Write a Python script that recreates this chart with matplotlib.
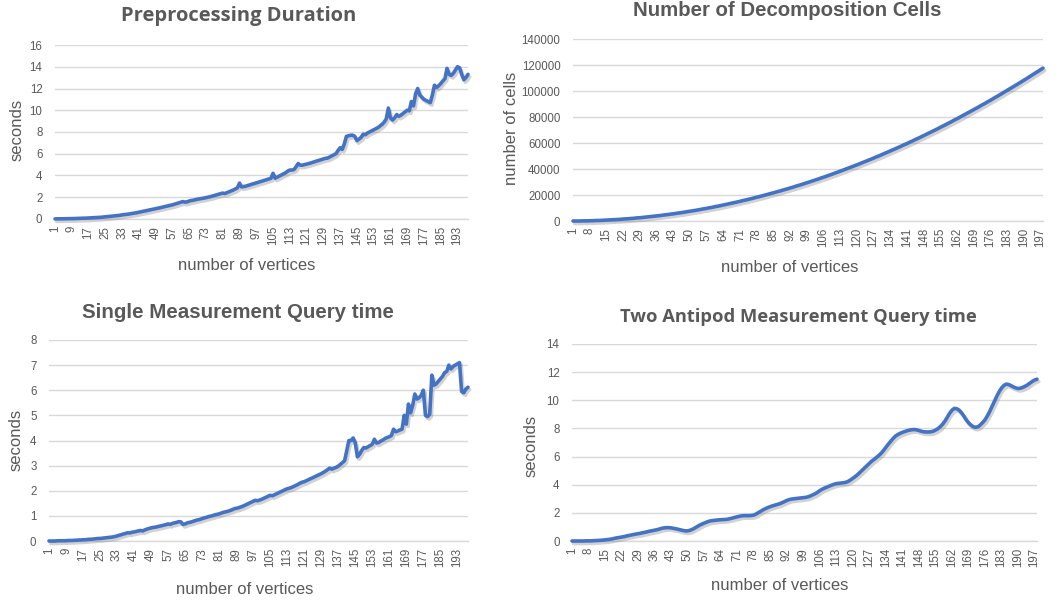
import matplotlib
matplotlib.use("Agg")
import matplotlib.pyplot as plt
import matplotlib.patheffects as pe
import numpy as np

# ---------------- data ----------------
vertices = list(range(1, 199))

preprocessing_sec = [
    0.01, 0.01, 0.02, 0.02, 0.02, 0.03, 0.03, 0.03, 0.04, 0.04,
    0.05, 0.05, 0.06, 0.07, 0.07, 0.08, 0.09, 0.10, 0.11, 0.12,
    0.13, 0.15, 0.16, 0.18, 0.20, 0.21, 0.23, 0.25, 0.27, 0.29,
    0.31, 0.34, 0.38, 0.40, 0.42, 0.45, 0.48, 0.52, 0.55, 0.58,
    0.62, 0.66, 0.69, 0.73, 0.77, 0.81, 0.86, 0.90, 0.95, 0.99,
    1.03, 1.08, 1.12, 1.17, 1.21, 1.26, 1.30, 1.36, 1.42, 1.48,
    1.54, 1.60, 1.55, 1.58, 1.65, 1.70, 1.73, 1.78, 1.82, 1.85,
    1.88, 1.92, 1.96, 2.00, 2.05, 2.10, 2.16, 2.22, 2.28, 2.33,
    2.38, 2.34, 2.42, 2.50, 2.58, 2.66, 2.76, 2.86, 3.30, 2.95,
    2.98, 3.02, 3.08, 3.14, 3.20, 3.26, 3.32, 3.38, 3.44, 3.50,
    3.56, 3.62, 3.68, 3.74, 4.20, 3.75, 3.85, 3.95, 4.05, 4.15,
    4.25, 4.40, 4.50, 4.50, 4.55, 4.80, 5.10, 4.95, 4.95, 5.00,
    5.05, 5.10, 5.15, 5.22, 5.28, 5.34, 5.40, 5.45, 5.52, 5.58,
    5.60, 5.70, 5.80, 5.90, 6.00, 6.30, 6.55, 6.40, 6.90, 7.60,
    7.65, 7.70, 7.70, 7.60, 7.20, 7.35, 7.50, 7.80, 7.75, 7.90,
    8.00, 8.10, 8.20, 8.30, 8.40, 8.55, 8.70, 8.90, 9.20, 10.20,
    9.30, 9.10, 9.30, 9.60, 9.45, 9.55, 9.70, 9.85, 10.00, 9.95,
    10.80, 10.40, 11.50, 12.00, 11.40, 11.20, 11.00, 10.90, 10.80, 10.70,
    11.40, 12.30, 12.10, 12.25, 12.45, 12.70, 12.90, 13.85, 13.30, 13.20,
    13.40, 13.70, 14.00, 13.90, 13.30, 12.80, 13.00, 13.30,
]

decomposition_cells = [
    0, 0, 0, 0, 100, 100, 100, 200, 200, 300,
    400, 400, 500, 600, 700, 800, 900, 1000, 1100, 1200,
    1300, 1500, 1600, 1700, 1900, 2000, 2200, 2400, 2500, 2700,
    2900, 3100, 3300, 3500, 3700, 3900, 4100, 4300, 4600, 4800,
    5000, 5300, 5500, 5800, 6100, 6300, 6600, 6900, 7200, 7500,
    7800, 8100, 8400, 8700, 9100, 9400, 9700, 10100, 10400, 10800,
    11200, 11500, 11900, 12300, 12700, 13100, 13500, 13900, 14300, 14700,
    15100, 15600, 16000, 16400, 16900, 17300, 17800, 18300, 18700, 19200,
    19700, 20200, 20700, 21200, 21700, 22200, 22700, 23200, 23800, 24300,
    24800, 25400, 25900, 26500, 27100, 27600, 28200, 28800, 29400, 30000,
    30600, 31200, 31800, 32400, 33100, 33700, 34300, 35000, 35600, 36300,
    37000, 37600, 38300, 39000, 39700, 40400, 41100, 41800, 42500, 43200,
    43900, 44700, 45400, 46100, 46900, 47600, 48400, 49200, 49900, 50700,
    51500, 52300, 53100, 53900, 54700, 55500, 56300, 57100, 58000, 58800,
    59600, 60500, 61300, 62200, 63100, 63900, 64800, 65700, 66600, 67500,
    68400, 69300, 70200, 71100, 72100, 73000, 73900, 74900, 75800, 76800,
    77800, 78700, 79700, 80700, 81700, 82700, 83700, 84700, 85700, 86700,
    87700, 88800, 89800, 90800, 91900, 92900, 94000, 95100, 96100, 97200,
    98300, 99400, 100500, 101600, 102700, 103800, 104900, 106000, 107200, 108300,
    109400, 110600, 111700, 112900, 114100, 115200, 116400, 117600,
]

single_query_sec = [
    0.00, 0.00, 0.00, 0.00, 0.01, 0.01, 0.01, 0.01, 0.01, 0.02,
    0.02, 0.02, 0.03, 0.03, 0.04, 0.04, 0.05, 0.05, 0.06, 0.07,
    0.07, 0.08, 0.09, 0.10, 0.10, 0.11, 0.12, 0.13, 0.14, 0.15,
    0.16, 0.18, 0.20, 0.23, 0.25, 0.28, 0.30, 0.33, 0.32, 0.35,
    0.36, 0.38, 0.40, 0.42, 0.40, 0.44, 0.47, 0.50, 0.52, 0.54,
    0.55, 0.57, 0.59, 0.61, 0.63, 0.65, 0.68, 0.66, 0.70, 0.72,
    0.74, 0.77, 0.76, 0.66, 0.68, 0.72, 0.74, 0.76, 0.79, 0.82,
    0.84, 0.86, 0.89, 0.92, 0.94, 0.97, 0.99, 1.01, 1.04, 1.06,
    1.08, 1.11, 1.14, 1.16, 1.18, 1.21, 1.24, 1.28, 1.30, 1.32,
    1.35, 1.38, 1.42, 1.46, 1.50, 1.54, 1.58, 1.62, 1.60, 1.63,
    1.66, 1.70, 1.74, 1.78, 1.82, 1.80, 1.84, 1.88, 1.92, 1.96,
    2.00, 2.04, 2.08, 2.10, 2.13, 2.17, 2.21, 2.25, 2.30, 2.34,
    2.36, 2.40, 2.44, 2.48, 2.52, 2.56, 2.60, 2.64, 2.68, 2.73,
    2.78, 2.84, 2.90, 2.86, 2.90, 2.93, 2.98, 3.05, 3.12, 3.20,
    3.60, 4.00, 4.00, 4.10, 3.90, 3.35, 3.45, 3.60, 3.72, 3.70,
    3.75, 3.80, 3.85, 4.05, 3.90, 3.92, 3.98, 4.02, 4.08, 4.12,
    4.15, 4.20, 4.45, 4.35, 4.38, 4.42, 4.45, 5.00, 4.65, 5.45,
    5.10, 5.40, 5.85, 5.65, 5.70, 5.80, 6.00, 5.00, 4.95, 5.05,
    6.60, 6.20, 6.25, 6.35, 6.45, 6.55, 6.70, 6.75, 7.00, 6.85,
    6.95, 7.00, 7.05, 7.10, 5.95, 5.90, 6.05, 6.12,
]

antipod_query_sec = [
    0.00, 0.00, 0.00, 0.00, 0.00, 0.00, 0.01, 0.01, 0.01, 0.02,
    0.03, 0.04, 0.05, 0.06, 0.08, 0.10, 0.12, 0.15, 0.19, 0.22,
    0.25, 0.28, 0.31, 0.35, 0.39, 0.42, 0.46, 0.49, 0.52, 0.55,
    0.59, 0.62, 0.66, 0.70, 0.73, 0.77, 0.80, 0.85, 0.90, 0.93,
    0.95, 0.95, 0.93, 0.90, 0.87, 0.83, 0.79, 0.75, 0.72, 0.72,
    0.76, 0.83, 0.92, 1.02, 1.12, 1.20, 1.27, 1.34, 1.40, 1.44,
    1.46, 1.48, 1.50, 1.51, 1.52, 1.53, 1.55, 1.59, 1.63, 1.68,
    1.72, 1.76, 1.79, 1.80, 1.80, 1.80, 1.81, 1.84, 1.92, 2.02,
    2.12, 2.22, 2.30, 2.38, 2.44, 2.50, 2.55, 2.60, 2.65, 2.72,
    2.80, 2.88, 2.94, 2.98, 3.00, 3.02, 3.04, 3.06, 3.08, 3.10,
    3.14, 3.20, 3.28, 3.36, 3.46, 3.58, 3.68, 3.76, 3.83, 3.90,
    3.97, 4.03, 4.08, 4.10, 4.12, 4.14, 4.17, 4.24, 4.34, 4.46,
    4.58, 4.72, 4.88, 5.04, 5.20, 5.36, 5.52, 5.68, 5.80, 5.94,
    6.08, 6.24, 6.44, 6.66, 6.88, 7.08, 7.28, 7.45, 7.56, 7.65,
    7.72, 7.78, 7.84, 7.88, 7.91, 7.92, 7.90, 7.85, 7.80, 7.76,
    7.75, 7.75, 7.76, 7.80, 7.88, 7.98, 8.12, 8.30, 8.52, 8.80,
    9.08, 9.30, 9.42, 9.40, 9.30, 9.12, 8.88, 8.62, 8.40, 8.24,
    8.12, 8.08, 8.12, 8.25, 8.42, 8.62, 8.90, 9.22, 9.58, 9.95,
    10.30, 10.62, 10.88, 11.06, 11.15, 11.12, 11.04, 10.95, 10.88, 10.84,
    10.86, 10.92, 11.00, 11.10, 11.22, 11.34, 11.44, 11.50,
]

titles = ["Preprocessing Duration", "Number of Decomposition Cells",
          "Single Measurement Query time", "Two Antipod Measurement Query time"]
ylabels = ["seconds", "number of cells", "seconds", "seconds"]
xlabel = "number of vertices"

# ---------------- styling ----------------
W, H = 1055, 605
LINE = "#4472C4"
GRAY = "#595959"
GRID = "#d9d9d9"

fig = plt.figure(figsize=(W / 100, H / 100), dpi=100)
fig.patch.set_facecolor("white")


def px_axes(l, r, t, b):
    return fig.add_axes([l / W, 1 - b / H, (r - l) / W, (b - t) / H])


def ftext(x, y, s, **kw):
    fig.text(x / W, 1 - y / H, s, ha="center", va="center", color=GRAY, **kw)


panels = [
    dict(box=(55, 468, 45, 219), data=preprocessing_sec, ymax=16, ystep=2, xstep=8,
         tfont="Open Sans", tsize=14.5, tpos=(239, 16), ypos=(17, 130), xpos=(247, 266)),
    dict(box=(573, 1043, 39, 221), data=decomposition_cells, ymax=140000, ystep=20000, xstep=7,
         tfont="Liberation Sans", tsize=14.7, tpos=(787, 11), ypos=(511, 128), xpos=(790, 268)),
    dict(box=(49, 468, 340, 541), data=single_query_sec, ymax=8, ystep=1, xstep=8,
         tfont="Liberation Sans", tsize=14.8, tpos=(238, 312), ypos=(16, 440), xpos=(245, 590)),
    dict(box=(572, 1037, 344, 541), data=antipod_query_sec, ymax=14, ystep=2, xstep=7,
         tfont="Open Sans", tsize=13.2, tpos=(798, 317), ypos=(531, 446), xpos=(780, 585)),
]

shadow = [pe.SimpleLineShadow(offset=(1.2, -1.8), shadow_color="#7f7f7f", alpha=0.35),
          pe.Normal()]

for i, p in enumerate(panels):
    l, r, t, b = p["box"]
    ax = px_axes(l, r, t, b)
    ax.plot(vertices, p["data"], color=LINE, lw=2.6, solid_joinstyle="round",
            solid_capstyle="round", clip_on=False, zorder=3, path_effects=shadow)
    ax.set_xlim(vertices[0], vertices[-1])
    ax.set_ylim(0, p["ymax"])
    ax.set_yticks(np.arange(0, p["ymax"] + p["ystep"] / 2, p["ystep"]))
    xt = vertices[::p["xstep"]]
    ax.set_xticks(xt)
    ax.set_xticklabels([str(v) for v in xt], rotation=90)
    ax.grid(axis="y", color=GRID, lw=1.0)
    ax.set_axisbelow(True)
    for s in ["top", "right", "left"]:
        ax.spines[s].set_visible(False)
    ax.spines["bottom"].set_color(GRID)
    ax.spines["bottom"].set_linewidth(1.0)
    ax.tick_params(axis="both", length=0, colors=GRAY, labelsize=8.3)
    ax.tick_params(axis="y", pad=9)
    ax.tick_params(axis="x", pad=5)
    for lab in ax.get_xticklabels() + ax.get_yticklabels():
        lab.set_fontfamily("Liberation Sans")
    ftext(*p["tpos"], titles[i], fontsize=p["tsize"], fontweight="bold", family=p["tfont"])
    ftext(*p["ypos"], ylabels[i], fontsize=12, rotation=90, family="Liberation Sans")
    ftext(*p["xpos"], xlabel, fontsize=12, family="Liberation Sans")

fig.savefig("out.png", dpi=100, facecolor="white")
